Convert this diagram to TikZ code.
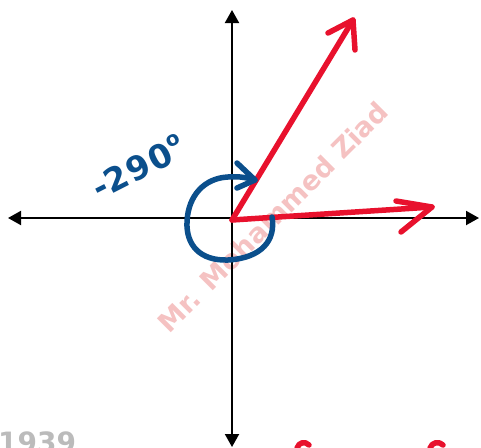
\documentclass[tikz,border=0pt]{standalone}
\usepackage{fontspec}
\setmainfont{DejaVu Sans}
\usetikzlibrary{arrows.meta}
\definecolor{vred}{HTML}{E8112D}
\definecolor{vblue}{HTML}{0B4F8C}
\definecolor{wmark}{HTML}{F5C2C2}
\definecolor{faint}{HTML}{BBBBBB}
\begin{document}
\begin{tikzpicture}[x=1pt,y=-1pt,
  axis/.style={line width=2pt,-{Triangle[length=13pt,width=14pt]}},
  vec/.style={vred,line width=5.5pt,line cap=round,line join=round},
  turn/.style={vblue,line width=5.5pt,line cap=round,line join=round},
  label/.style={text=vblue,font=\bfseries\fontsize{33}{33}\selectfont,inner sep=0pt},
  wm/.style={text=wmark,font=\bfseries\fontsize{27}{27}\selectfont,inner sep=0pt},
  stamp/.style={text=faint,font=\bfseries\fontsize{28}{28}\selectfont,inner sep=0pt}]
\useasboundingbox (0,0) rectangle (481,447);
\clip (0,0) rectangle (481,447);
% watermark
\node[wm,rotate=45] (wmk) at (273,217) {Mr. Mohammed Ziad};
% axes
\coordinate (O) at (232,218);
\coordinate (L) at (8,218);
\coordinate (R) at (479,218);
\coordinate (T) at (232,10);
\coordinate (B) at (232,447);
\draw[axis] (O) -- (L);
\draw[axis] (O) -- (R);
\draw[axis] (O) -- (T);
\draw[axis] (O) -- (B);
% red vectors
\coordinate (V0) at (232,220);
\coordinate (V1) at (353,20);
\coordinate (V2) at (432,207);
\draw[vec] (V0) -- (V1);
\draw[vec] (328,33) -- (V1) -- (355,50);
\draw[vec] (V0) -- (V2);
\draw[vec] (396,201) -- (V2) -- (401,232);
% blue turning arrow
\coordinate (A0) at (272,217);
\coordinate (A1) at (255,180);
\draw[turn] (A0) .. controls (276,240) and (262,258) .. (228,260)
  .. controls (200,261) and (186,245) .. (187,222)
  .. controls (188,195) and (205,178) .. (228,177)
  .. controls (240,176) and (248,178) .. (A1);
\draw[turn] (237,163) -- (A1) -- (237,188);
% label
\node[label,rotate=27] (ang) at (138,167) {-2\kern2pt9\kern1pt0\raisebox{0.45em}{\fontsize{20}{20}\selectfont o}};
% cut-off marks at the bottom
\node[stamp,anchor=north west] (st) at (-2,432) {1939};
\draw[vec] (297,448) .. controls (299,442) and (305,441) .. (309,445);
\draw[vec] (430,448) .. controls (432,442) and (439,441) .. (443,445);
\end{tikzpicture}
\end{document}
